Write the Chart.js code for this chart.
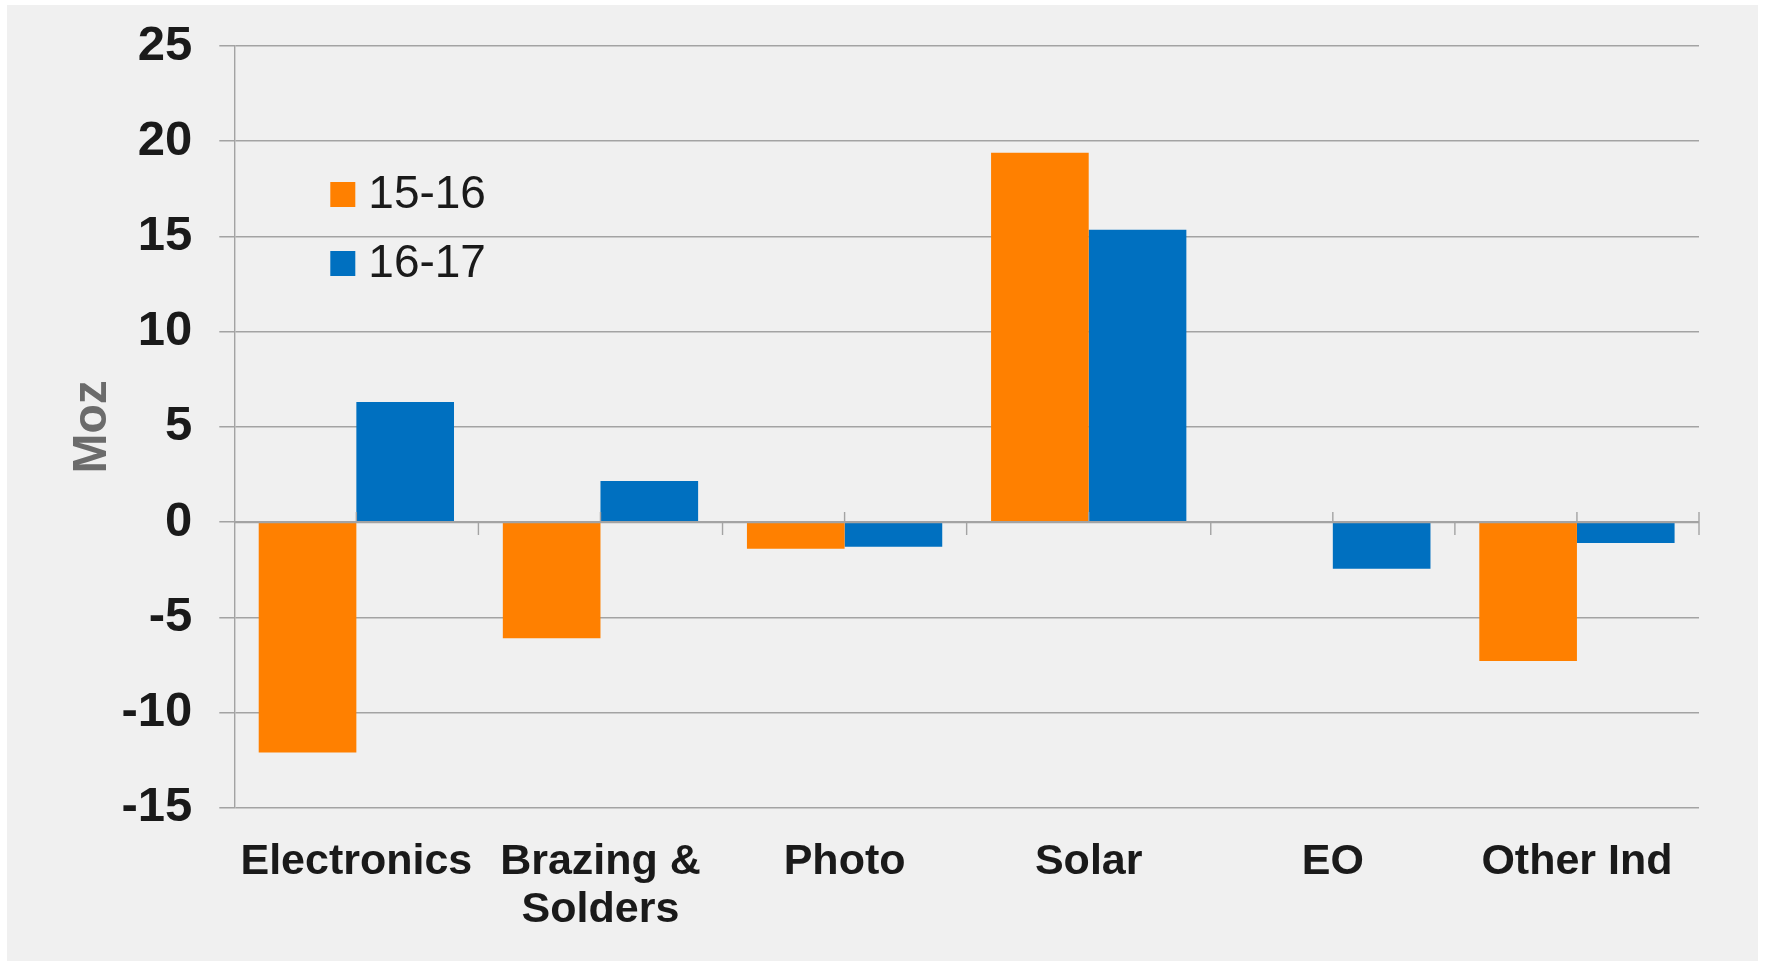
<!DOCTYPE html>
<html>
<head>
<meta charset="utf-8">
<script src="https://cdn.jsdelivr.net/npm/chart.js@4.4.1/dist/chart.umd.min.js"></script>
<style>
  html, body { margin: 0; padding: 0; background: #ffffff; width: 1766px; height: 961px; overflow: hidden; }
  #panel { position: absolute; left: 7px; top: 5px; right: 8px; bottom: 0; background: #f0f0f0; }
  #wrap { position: absolute; left: 0; top: 0; width: 1766px; height: 961px; }
</style>
</head>
<body>
<div id="panel"></div>
<div id="wrap"><canvas id="chart"></canvas></div>
<script>
// Change in silver demand by industrial segment (Moz)
const categories = ['Electronics', ['Brazing &', 'Solders'], 'Photo', 'Solar', 'EO', 'Other Ind'];
const seriesNames = ['15-16', '16-17'];
const values1516 = [-12.1, -6.1, -1.4, 19.4, 0, -7.3];
const values1617 = [6.3, 2.15, -1.3, 15.35, -2.45, -1.1];
const yMin = -15;
const yMax = 25;
const yStep = 5;
const axisTitle = 'Moz';

const seriesColors = ['#ff8000', '#0070c0'];
const gridColor = '#a3a3a3';
const textColor = '#1a1a1a';
const fontFamily = '"Liberation Sans", Arial, Helvetica, sans-serif';

// Legend drawn inside the plot area, upper left
const innerLegend = {
  id: 'innerLegend',
  afterDraw(chart) {
    const { ctx, chartArea } = chart;
    const x0 = chartArea.left + 96;
    const y0 = chartArea.top + 148.5;
    const rowGap = 69;
    const box = 25;
    ctx.save();
    ctx.font = '46px ' + fontFamily;
    ctx.textBaseline = 'middle';
    ctx.textAlign = 'left';
    chart.data.datasets.forEach((ds, i) => {
      const cy = y0 + i * rowGap;
      ctx.fillStyle = ds.backgroundColor;
      ctx.fillRect(x0, cy - box / 2, box, box);
      ctx.fillStyle = textColor;
      ctx.fillText(ds.label, x0 + 38, cy + 1);
    });
    ctx.restore();
  }
};

// Zero line with small tick marks on top of the bars
const zeroAxis = {
  id: 'zeroAxis',
  afterDatasetsDraw(chart) {
    const { ctx } = chart;
    const xs = chart.scales.x;
    const ys = chart.scales.y;
    const y0 = ys.getPixelForValue(0);
    const n = chart.data.labels.length;
    const half = (xs.getPixelForValue(1) - xs.getPixelForValue(0)) / 2;
    ctx.save();
    ctx.strokeStyle = gridColor;
    ctx.lineWidth = 2.3;
    ctx.beginPath();
    ctx.moveTo(chart.chartArea.left, y0);
    ctx.lineTo(chart.chartArea.right, y0);
    ctx.stroke();
    ctx.lineWidth = 1.4;
    ctx.beginPath();
    for (let i = 1; i <= n; i++) {
      const bx = xs.getPixelForValue(i) - half;
      ctx.moveTo(bx, y0);
      ctx.lineTo(bx, y0 + 13);
    }
    for (let i = 0; i < n; i++) {
      const cx = xs.getPixelForValue(i);
      ctx.moveTo(cx, y0 - 10);
      ctx.lineTo(cx, y0);
    }
    const ex = xs.getPixelForValue(n - 1) + half;
    ctx.moveTo(ex, y0 - 10);
    ctx.lineTo(ex, y0);
    ctx.stroke();
    ctx.restore();
  }
};

new Chart(document.getElementById('chart'), {
  type: 'bar',
  data: {
    labels: categories,
    datasets: [
      { label: seriesNames[0], data: values1516, backgroundColor: seriesColors[0] },
      { label: seriesNames[1], data: values1617, backgroundColor: seriesColors[1] }
    ]
  },
  options: {
    responsive: true,
    maintainAspectRatio: false,
    animation: false,
    events: [],
    layout: { padding: { left: 7, top: 46, right: 67, bottom: 0 } },
    datasets: {
      bar: { categoryPercentage: 0.8, barPercentage: 1.0, borderWidth: 0 }
    },
    plugins: {
      legend: { display: false },
      tooltip: { enabled: false },
      title: { display: false }
    },
    scales: {
      x: {
        position: 'bottom',
        grid: { display: false, drawTicks: false },
        border: { display: false },
        ticks: {
          color: textColor,
          padding: 30,
          maxRotation: 0,
          autoSkip: false,
          font: { family: fontFamily, size: 43, weight: 'bold', lineHeight: 1.12 }
        },
        afterFit(scale) { scale.height = 153.3; }
      },
      y: {
        min: yMin,
        max: yMax,
        ticks: {
          stepSize: yStep,
          color: textColor,
          padding: 27,
          font: { family: fontFamily, size: 49, weight: 'bold' }
        },
        grid: {
          color: gridColor,
          lineWidth: 1.5,
          tickLength: 15,
          drawTicks: true
        },
        border: { display: true, color: gridColor, width: 1.4 },
        title: {
          display: true,
          text: axisTitle,
          color: '#6b6b6b',
          padding: { top: 57, bottom: 0 },
          font: { family: fontFamily, size: 48, weight: 'bold', lineHeight: 1.2 }
        },
        afterFit(scale) {
          scale.width = 227.3;
          scale.paddingTop = 0;
          scale.paddingBottom = 0;
        }
      }
    }
  },
  plugins: [zeroAxis, innerLegend]
});
</script>
</body>
</html>
